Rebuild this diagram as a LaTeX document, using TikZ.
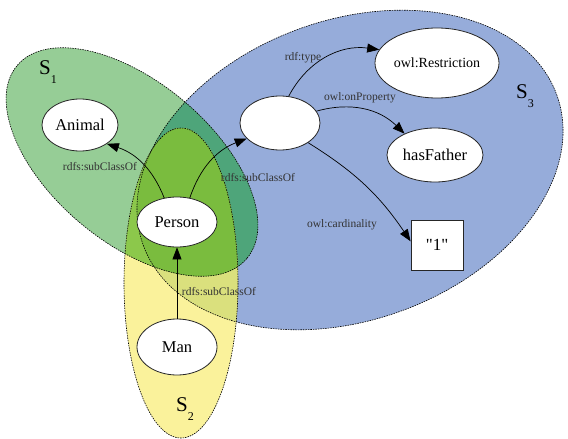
\documentclass[tikz,border=0pt]{standalone}
\usepackage{fontspec}
\setmainfont{Liberation Serif}
\newfontfamily\rawserif{Liberation Serif}[Ligatures=NoCommon]
\usetikzlibrary{arrows.meta,shapes.geometric}
\definecolor{cB}{RGB}{150,172,218}
\definecolor{cG}{RGB}{150,205,150}
\definecolor{cY}{RGB}{250,242,155}
\definecolor{cGB}{RGB}{78,165,122}
\definecolor{cYB}{RGB}{218,224,125}
\definecolor{cYG}{RGB}{140,200,75}
\definecolor{cYGB}{RGB}{122,188,62}
\begin{document}
\begin{tikzpicture}[x=1pt,y=-1pt,
  border/.style={draw=black, line width=0.6pt, dash pattern=on 1.5pt off 1pt},
  rotB/.style={rotate around={20:(350,170)}},
  rotG/.style={rotate around={-40:(132,162)}},
  obj/.style={ellipse, draw=black!85, fill=white, line width=0.8pt, inner sep=0pt, font=\fontsize{16.5}{18}\selectfont},
  lab/.style={font=\fontsize{11.5}{12}\selectfont, text=black!80, inner sep=0pt},
  arr/.style={-{Triangle[length=12pt,width=9pt]}, line width=0.7pt},
  slab/.style={font=\fontsize{21}{22}\selectfont, inner sep=0pt}]
\useasboundingbox (0,0) rectangle (568,439);
\def\pB{(350,170) ellipse [x radius=220, y radius=150]}
\def\pG{(132,162) ellipse [x radius=150, y radius=80]}
\def\pY{(181,283) ellipse [x radius=57, y radius=155]}
% regions
\fill[cB, rotB] \pB;
\fill[cG, rotG] \pG;
\begin{scope}\clip[rotB] \pB; \fill[cGB, rotG] \pG; \end{scope}
\fill[cY] \pY;
\begin{scope}\clip[rotB] \pB; \fill[cYB] \pY; \end{scope}
\begin{scope}\clip[rotG] \pG; \fill[cYG] \pY; \end{scope}
\begin{scope}\clip[rotB] \pB; \clip[rotG] \pG; \fill[cYGB] \pY; \end{scope}
\path[border, rotB] \pB;
\path[border, rotG] \pG;
\path[border] \pY;
% nodes
\node[obj, minimum width=76pt, minimum height=52pt] (animal) at (80,125) {Animal};
\node[obj, minimum width=80pt, minimum height=54pt] (blank) at (280,123) {};
\node[obj, minimum width=124pt, minimum height=70pt, font=\fontsize{14}{16}\selectfont] (restr) at (437,63) {owl:Restriction};
\node[obj, minimum width=96pt, minimum height=54pt] (hasf) at (435,155) {hasFather};
\node[obj, minimum width=80pt, minimum height=50pt] (person) at (177,222) {Person};
\node[obj, minimum width=80pt, minimum height=56pt] (man) at (177,347) {Man};
\node[draw=black!85, fill=white, line width=0.8pt, minimum width=52pt, minimum height=50pt, inner sep=0pt, font=\rawserif\fontsize{17}{18}\selectfont] (one) at (437,245) {"1"};
% edges
\draw[arr] (person.118) to[bend right=25] (animal.-35);
\draw[arr] (person.62) to[bend left=25] (blank.205);
\draw[arr] (man.north) -- (person.south);
\draw[arr] (blank.72) to[bend left=35] (restr.167);
\draw[arr] (blank.18) to[bend left=30] (hasf.145);
\draw[arr] (blank.-35) to[bend left=12] (one.172);
% labels
\node[lab] (l1) at (100,167) {rdfs:subClassOf};
\node[lab] (l2) at (258,178) {rdfs:subClassOf};
\node[lab] (l3) at (303,58) {rdf:type};
\node[lab] (l4) at (360,98) {owl:onProperty};
\node[lab] (l5) at (342,225) {owl:cardinality};
\node[lab] (l6) at (219,292) {rdfs:subClassOf};
\node[slab] (s1) at (48,72) {S\raisebox{-0.4em}{\fontsize{12}{12}\selectfont 1}};
\node[slab] (s2) at (185,409) {S\raisebox{-0.4em}{\fontsize{12}{12}\selectfont 2}};
\node[slab] (s3) at (525,96) {S\raisebox{-0.4em}{\fontsize{12}{12}\selectfont 3}};
\end{tikzpicture}
\end{document}
